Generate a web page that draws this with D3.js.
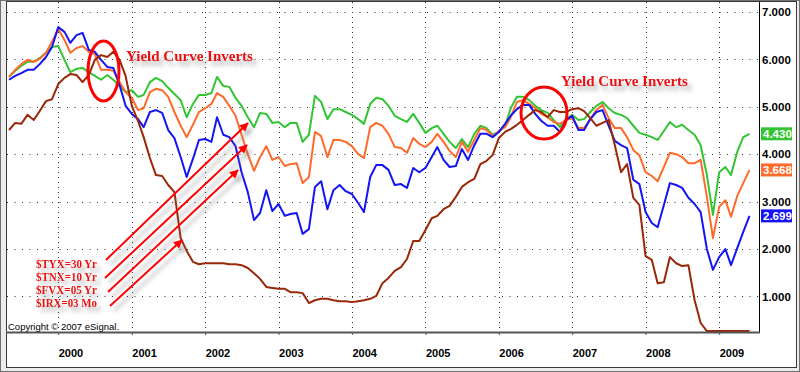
<!DOCTYPE html>
<html>
<head>
<meta charset="utf-8">
<script src="https://cdn.jsdelivr.net/npm/d3@7"></script>
<style>
  body { margin: 0; background: #fff; }
  svg { display: block; }
</style>
</head>
<body>
<svg id="chart"></svg>
<script>
// monthly closes, May 1999 .. Jun 2009
const months = d3.timeMonth.range(new Date(1999, 4, 1), new Date(2009, 6, 1));

const tyx = [5.63,5.76,5.86,5.95,5.95,6.03,6.14,6.26,
  6.28,5.99,5.73,5.80,5.82,5.73,5.65,5.57,5.67,5.57,5.44,5.31,
  5.35,5.21,5.25,5.52,5.61,5.54,5.40,5.27,5.14,4.78,5.06,5.25,
  5.25,5.29,5.63,5.44,5.42,5.19,5.02,4.78,4.57,4.87,4.85,4.66,
  4.68,4.57,4.66,4.66,4.26,4.41,5.23,5.10,4.74,4.95,4.95,4.89,
  4.83,4.74,4.64,5.06,5.19,5.16,5.02,4.81,4.74,4.68,4.85,4.66,
  4.45,4.55,4.60,4.43,4.26,4.13,4.32,4.15,4.43,4.60,4.55,4.41,
  4.47,4.60,4.97,5.21,5.21,5.14,5.02,4.93,4.87,4.72,4.57,4.74,
  4.83,4.72,4.74,4.89,5.02,5.10,4.97,4.87,4.83,4.76,4.60,4.45,
  4.41,4.36,4.30,4.49,4.68,4.57,4.62,4.51,4.41,4.19,3.56,2.72,
  3.62,3.73,3.56,4.05,4.36,4.43];

const tnx = [5.63,5.78,5.90,5.99,5.95,6.01,6.14,6.37,
  6.64,6.41,6.14,6.24,6.28,6.16,6.11,5.78,5.78,5.76,5.52,5.31,
  5.19,4.93,4.97,5.31,5.38,5.35,5.21,4.89,4.60,4.36,4.62,4.89,
  4.97,5.06,5.29,5.21,5.02,4.81,4.41,4.00,3.65,3.94,4.17,3.88,
  3.94,3.75,3.79,3.81,3.39,3.52,4.47,4.38,3.94,4.30,4.30,4.26,
  4.17,4.00,3.92,4.57,4.66,4.60,4.43,4.15,4.13,4.03,4.34,4.22,
  4.15,4.26,4.43,4.26,4.07,3.94,4.26,4.05,4.30,4.55,4.51,4.38,
  4.49,4.57,4.78,5.10,5.14,5.06,4.97,4.85,4.78,4.68,4.64,4.72,
  4.76,4.55,4.55,4.74,4.93,5.04,4.76,4.55,4.55,4.36,4.09,3.98,
  3.62,3.54,3.43,3.73,4.03,4.00,3.94,3.81,3.81,3.88,3.10,2.23,
  2.89,3.03,2.68,3.12,3.39,3.668];

const fvx = [5.57,5.65,5.71,5.78,5.78,5.90,6.05,6.26,
  6.68,6.58,6.35,6.51,6.56,6.20,6.16,5.99,5.84,5.82,5.46,5.02,
  4.85,4.74,4.57,4.89,4.93,4.87,4.51,4.34,3.94,3.52,3.90,4.30,
  4.32,4.26,4.78,4.41,4.36,4.17,3.62,3.20,2.61,2.76,3.24,2.80,
  2.95,2.70,2.74,2.76,2.32,2.42,3.31,3.43,2.84,3.24,3.35,3.22,
  3.16,2.97,2.78,3.52,3.77,3.77,3.67,3.35,3.37,3.29,3.71,3.62,
  3.71,3.94,4.15,3.88,3.73,3.75,4.11,3.88,4.19,4.43,4.43,4.36,
  4.47,4.64,4.81,4.95,5.04,5.04,4.85,4.70,4.60,4.60,4.47,4.72,
  4.81,4.51,4.51,4.74,4.89,4.93,4.60,4.28,4.19,4.13,3.46,3.37,
  2.78,2.55,2.46,2.93,3.39,3.35,3.29,3.08,2.95,2.78,2.00,1.56,
  1.83,2.00,1.66,2.02,2.36,2.699];

const irx = [4.51,4.66,4.64,4.83,4.72,4.91,5.12,5.16,
  5.48,5.61,5.69,5.67,5.52,5.67,5.99,6.09,6.05,6.16,5.99,5.65,
  5.02,4.70,4.36,3.92,3.56,3.54,3.35,3.20,2.23,1.96,1.73,1.68,
  1.70,1.70,1.70,1.70,1.68,1.68,1.66,1.60,1.49,1.37,1.20,1.18,
  1.16,1.16,1.09,1.09,1.07,0.86,0.92,0.95,0.95,0.92,0.90,0.90,
  0.88,0.90,0.92,0.95,1.01,1.28,1.39,1.54,1.62,1.79,2.17,2.17,
  2.40,2.65,2.70,2.84,2.91,3.10,3.31,3.41,3.48,3.79,3.86,3.98,
  4.34,4.47,4.53,4.62,4.72,4.83,4.93,4.89,4.78,4.93,4.89,4.89,
  4.95,4.97,4.91,4.76,4.60,4.66,4.72,4.19,3.62,3.79,3.08,2.93,
  1.85,1.77,1.28,1.30,1.83,1.70,1.64,1.66,0.92,0.44,0.27,0.27,
  0.27,0.27,0.27,0.27,0.27,0.27];

const yTicks = [1, 2, 3, 4, 5, 6, 7];
const legendLabels = ["$TYX=30 Yr", "$TNX=10 Yr", "$FVX=05 Yr", "$IRX=03 Mo"];
const noteText = "Yield Curve Inverts";

const series = [
  { name: "$TYX", values: tyx, color: "#33c433", box: true },
  { name: "$TNX", values: tnx, color: "#ff6a2b", box: true },
  { name: "$FVX", values: fvx, color: "#1414f5", box: true },
  { name: "$IRX", values: irx, color: "#9a2708", box: false }
];

const W = 800, H = 372;
const plot = { left: 7, right: 759, top: 2, bottom: 332 };

const svg = d3.select("#chart").attr("width", W).attr("height", H);

// window bevel + frame
svg.append("rect").attr("x", 0.5).attr("y", 0.5).attr("width", W - 1).attr("height", H - 1)
  .attr("fill", "#ececec").attr("stroke", "#707070");
svg.append("rect").attr("x", 6.5).attr("y", 1.5).attr("width", 790).attr("height", 366)
  .attr("fill", "#fff").attr("stroke", "#3a3a3a");

const defs = svg.append("defs");
defs.append("clipPath").attr("id", "clip").append("rect")
  .attr("x", plot.left).attr("y", plot.top)
  .attr("width", plot.right - plot.left).attr("height", plot.bottom - plot.top);

const shadow = defs.append("filter").attr("id", "shadow")
  .attr("x", "-20%").attr("y", "-30%").attr("width", "150%").attr("height", "180%");
shadow.append("feGaussianBlur").attr("in", "SourceAlpha").attr("stdDeviation", 2);
shadow.append("feOffset").attr("dx", 4).attr("dy", 5).attr("result", "off");
shadow.append("feFlood").attr("flood-color", "#808080").attr("flood-opacity", 0.55);
shadow.append("feComposite").attr("in2", "off").attr("operator", "in");
const merge = shadow.append("feMerge");
merge.append("feMergeNode");
merge.append("feMergeNode").attr("in", "SourceGraphic");

defs.append("marker").attr("id", "head")
  .attr("viewBox", "0 0 10 10").attr("refX", 9).attr("refY", 5)
  .attr("markerWidth", 4.5).attr("markerHeight", 4.5)
  .attr("markerUnits", "strokeWidth").attr("orient", "auto")
  .append("path").attr("d", "M0,0 L10,5 L0,10 z").attr("fill", "#ff0000");

// scales
const x = d3.scaleTime()
  .domain([months[0], months[months.length - 1]])
  .range([9, 749.5]);

const y = d3.scaleLinear()
  .domain([0.25, 7.21])
  .range([plot.bottom, plot.top]);

// grid
const grid = svg.append("g");
grid.selectAll("line.h").data(yTicks).join("line")
  .attr("x1", plot.left).attr("x2", plot.right)
  .attr("y1", d => Math.round(y(d)) + 0.5).attr("y2", d => Math.round(y(d)) + 0.5)
  .attr("stroke", "#333").attr("stroke-dasharray", "1,6.5");
const years = d3.timeYear.range(new Date(2000, 0, 1), new Date(2009, 1, 1));
grid.selectAll("line.v").data(years).join("line")
  .attr("x1", d => Math.round(x(d)) + 0.5).attr("x2", d => Math.round(x(d)) + 0.5)
  .attr("y1", plot.top).attr("y2", plot.bottom)
  .attr("stroke", "#333").attr("stroke-dasharray", "1,4");

// series
const line = d3.line().x((d, i) => x(months[i])).y(d => y(d));
svg.append("g").attr("clip-path", "url(#clip)")
  .selectAll("path").data(series).join("path")
  .attr("d", d => line(d.values))
  .attr("fill", "none").attr("stroke", d => d.color)
  .attr("stroke-width", 2).attr("stroke-linejoin", "round");

// plot borders
svg.append("line").attr("x1", plot.right + 0.5).attr("x2", plot.right + 0.5)
  .attr("y1", plot.top).attr("y2", plot.bottom).attr("stroke", "#000");
svg.append("line").attr("x1", plot.left - 1).attr("x2", plot.right + 1)
  .attr("y1", plot.bottom + 0.5).attr("y2", plot.bottom + 0.5)
  .attr("stroke", "#555").attr("stroke-width", 2);

// bottom axis
const xAxis = svg.append("g")
  .attr("transform", `translate(0,${plot.bottom})`)
  .call(d3.axisBottom(x).tickValues(years).tickFormat(d3.timeFormat("%Y")).tickSize(3))
  .call(g => g.select(".domain").remove());
xAxis.selectAll("line").attr("stroke", "#555");
xAxis.selectAll("text")
  .attr("text-anchor", "start").attr("dx", 0).attr("y", 17)
  .attr("fill", "#000")
  .style("font", "bold 11px 'Liberation Sans', Arial, sans-serif");

// right axis
const yAxis = svg.append("g")
  .attr("transform", `translate(${plot.right + 3},0)`)
  .call(d3.axisRight(y).tickValues(yTicks).tickFormat(d3.format(".3f")).tickSize(0))
  .call(g => g.select(".domain").remove());
yAxis.selectAll("text").attr("x", 0).attr("fill", "#000")
  .style("font", "bold 11.5px 'Liberation Sans', Arial, sans-serif");

// last value boxes
const last = series.filter(s => s.box);
const boxes = svg.append("g").selectAll("g").data(last).join("g")
  .attr("transform", d => `translate(${plot.right + 2},${y(d.values[d.values.length - 1])})`);
boxes.append("rect").attr("x", 0).attr("y", -6.5).attr("width", 31).attr("height", 13)
  .attr("fill", d => d.color);
boxes.append("text").attr("x", 2).attr("dy", "0.35em").attr("fill", "#fff")
  .style("font", "bold 11.5px 'Liberation Sans', Arial, sans-serif")
  .text(d => d3.format(".3f")(d.values[d.values.length - 1]));

// annotations
const notes = svg.append("g");
notes.append("ellipse").attr("cx", 103.5).attr("cy", 71).attr("rx", 15.5).attr("ry", 30)
  .attr("fill", "none").attr("stroke", "#ff0000").attr("stroke-width", 3);
notes.append("ellipse").attr("cx", 544).attr("cy", 113).attr("rx", 23).attr("ry", 26)
  .attr("fill", "none").attr("stroke", "#ff0000").attr("stroke-width", 3);

const noteFont = "bold 15px 'Liberation Serif', 'Times New Roman', serif";
[[126, 61], [561, 86]].forEach(p => {
  notes.append("text").attr("x", p[0]).attr("y", p[1])
    .attr("fill", "#ee1111").attr("filter", "url(#shadow)")
    .style("font", noteFont).text(noteText);
});

// arrows from the legend labels
const arrows = [
  [[106, 260], [248, 123]],
  [[105, 278], [247, 145]],
  [[108, 292], [238, 170]],
  [[110, 306], [182, 240]]
];
notes.append("g").attr("filter", "url(#shadow)")
  .selectAll("line").data(arrows).join("line")
  .attr("x1", d => d[0][0]).attr("y1", d => d[0][1])
  .attr("x2", d => d[1][0]).attr("y2", d => d[1][1])
  .attr("stroke", "#ff0000").attr("stroke-width", 2)
  .attr("marker-end", "url(#head)");

notes.append("g").attr("filter", "url(#shadow)")
  .selectAll("text").data(legendLabels).join("text")
  .attr("x", 36).attr("y", (d, i) => 268 + i * 13)
  .attr("fill", "#ee1111")
  .attr("textLength", 61).attr("lengthAdjust", "spacingAndGlyphs")
  .style("font", "bold 12px 'Liberation Serif', 'Times New Roman', serif")
  .text(d => d);

svg.append("text").attr("x", 8).attr("y", 329.5).attr("fill", "#000")
  .style("font", "9.5px 'Liberation Sans', Arial, sans-serif")
  .text("Copyright \u00a9 2007 eSignal.");
</script>
</body>
</html>
